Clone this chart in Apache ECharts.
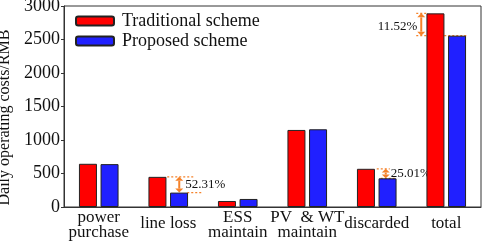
<!DOCTYPE html>
<html>
<head>
<meta charset="utf-8">
<script src="https://cdn.jsdelivr.net/npm/echarts@6/dist/echarts.min.js"></script>
<style>
  html, body { margin: 0; padding: 0; background: #fff; }
  #chart { width: 484px; height: 243px; }
</style>
</head>
<body>
<div id="chart"></div>
<script>
// categories and values
const categories = ['power\npurchase', 'line loss', 'ESS\nmaintain', 'PV  & WT\nmaintain', 'discarded', 'total'];
const traditional = [645, 450, 90, 1150, 570, 2890];
const proposed = [640, 215, 120, 1160, 428, 2557];
const yTicks = [0, 500, 1000, 1500, 2000, 2500, 3000];
// reduction labels: [category index, text]
const reductions = [[1, '52.31%'], [4, '25.01%'], [5, '11.52%']];

const font = 'Liberation Serif, Times New Roman, serif';
const orange = '#f5822a';
const myChart = echarts.init(document.getElementById('chart'));

const singleLine = ['line loss', 'discarded', 'total'];

const option = {
  animation: false,
  grid: {
    left: 64, right: 3, top: 6, bottom: 36, containLabel: false, outerBoundsMode: 'none',
    show: true, borderColor: '#333', borderWidth: 1
  },
  legend: {
    left: 70, top: 7, orient: 'vertical', itemWidth: 38, itemHeight: 9, itemGap: 2,
    textStyle: { fontFamily: font, fontSize: 18, color: '#111', padding: [0, 0, 0, 3] },
    data: ['Traditional scheme', 'Proposed scheme']
  },
  xAxis: {
    type: 'category',
    data: categories.map(c => singleLine.includes(c)
      ? { value: c, textStyle: { padding: [6, 0, 0, 0] } } : c),
    axisLine: { lineStyle: { color: '#333' } },
    axisTick: { show: false },
    axisLabel: { fontFamily: font, fontSize: 17, color: '#111', lineHeight: 15, margin: 3, interval: 0 }
  },
  yAxis: {
    type: 'value', min: yTicks[0], max: yTicks[yTicks.length - 1], interval: 500,
    name: 'Daily operating costs/RMB', nameLocation: 'middle', nameGap: 44,
    nameTextStyle: { fontFamily: font, fontSize: 16, color: '#111', padding: [0, 22, 0, 0] },
    axisLine: { show: true, lineStyle: { color: '#333' } },
    axisTick: { show: true, length: 3, lineStyle: { color: '#333' } },
    splitLine: { show: false },
    axisLabel: { fontFamily: font, fontSize: 18, color: '#111', margin: 4, formatter: v => String(v) }
  },
  series: [
    { name: 'Traditional scheme', type: 'bar', data: traditional, barWidth: 18, barGap: '20%',
      itemStyle: { color: '#ff0000', borderColor: '#222', borderWidth: 1 } },
    { name: 'Proposed scheme', type: 'bar', data: proposed, barWidth: 18,
      itemStyle: { color: '#2020ff', borderColor: '#222', borderWidth: 1 } }
  ]
};
option && myChart.setOption(option);

// reduction annotations, placed from the data through the axes
const px = (i, v) => myChart.convertToPixel({ gridIndex: 0 }, [i, v]);
const dash = (x1, x2, y) => ({
  type: 'line', shape: { x1: x1, y1: y, x2: x2, y2: y },
  style: { stroke: orange, lineWidth: 1.2, lineDash: [2, 2] }, silent: true
});
const arrow = (x, y1, y2) => {
  const h = Math.min(4, (y2 - y1) / 2.5);
  return [
    { type: 'line', shape: { x1: x, y1: y1 + h, x2: x, y2: y2 - h }, style: { stroke: orange, lineWidth: 2 } },
    { type: 'polygon', shape: { points: [[x, y1], [x - 4, y1 + h], [x + 4, y1 + h]] }, style: { fill: orange } },
    { type: 'polygon', shape: { points: [[x, y2], [x - 4, y2 - h], [x + 4, y2 - h]] }, style: { fill: orange } }
  ];
};
const label = (x, y, text, align) => ({
  type: 'text', x: x, y: y,
  style: { text: text, fontFamily: font, fontSize: 13, fill: '#111', align: align, verticalAlign: 'middle' }
});

const graphics = [];
reductions.forEach(([i, text]) => {
  const top = px(i, traditional[i]);
  const bot = px(i, proposed[i]);
  const c = top[0];
  if (i === 5) {
    graphics.push(dash(c - 30, c - 19, top[1]));
    graphics.push(dash(c - 30, c + 21, bot[1]));
    graphics.push(...arrow(c - 25, top[1], bot[1]));
    graphics.push(label(c - 29, (top[1] + bot[1]) / 2 + 2, text, 'right'));
  } else if (i === 1) {
    graphics.push(dash(c - 1, c + 25, top[1]));
    graphics.push(dash(c + 19, c + 35, bot[1]));
    graphics.push(...arrow(c + 11, top[1], bot[1]));
    graphics.push(label(c + 17, (top[1] + bot[1]) / 2, text, 'left'));
  } else {
    graphics.push(dash(c, c + 13, top[1]));
    graphics.push(dash(c + 4, c + 18, bot[1]));
    graphics.push(...arrow(c + 9, top[1], bot[1]));
    graphics.push(label(c + 14, (top[1] + bot[1]) / 2, text, 'left'));
  }
});
myChart.setOption({ graphic: graphics });
</script>
</body>
</html>
